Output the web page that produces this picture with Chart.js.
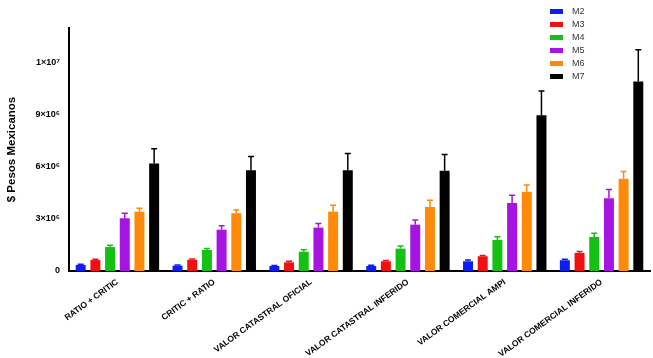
<!DOCTYPE html>
<html>
<head>
<meta charset="utf-8">
<script src="https://cdn.jsdelivr.net/npm/chart.js@4/dist/chart.umd.min.js"></script>
<style>
  html, body { margin: 0; padding: 0; background: #fff; }
  #wrap { width: 653px; height: 358px; position: relative; }
</style>
</head>
<body>
<div id="wrap"><canvas id="barPesos"></canvas></div>
<script>
// categories and tick labels
var categories = ["RATIO + CRITIC", "CRITIC + RATIO", "VALOR CATASTRAL OFICIAL",
                  "VALOR CATASTRAL INFERIDO", "VALOR COMERCIAL AMPI", "VALOR COMERCIAL INFERIDO"];
var yTicks = [0, 3e6, 6e6, 9e6, 12e6];
var yTickLabels = ["0", "3\u00d710\u2076", "6\u00d710\u2076", "9\u00d710\u2076", "1\u00d710\u2077"];

// means per method
var m2 = [0.35e6, 0.31e6, 0.29e6, 0.29e6, 0.56e6, 0.62e6];
var m3 = [0.63e6, 0.65e6, 0.50e6, 0.56e6, 0.85e6, 1.04e6];
var m4 = [1.38e6, 1.21e6, 1.11e6, 1.29e6, 1.79e6, 1.96e6];
var m5 = [3.04e6, 2.38e6, 2.50e6, 2.67e6, 3.92e6, 4.19e6];
var m6 = [3.42e6, 3.33e6, 3.42e6, 3.69e6, 4.56e6, 5.31e6];
var m7 = [6.19e6, 5.81e6, 5.81e6, 5.77e6, 8.98e6, 10.92e6];

// error (upper bar length)
var e2 = [0.04e6, 0.03e6, 0.03e6, 0.04e6, 0.07e6, 0.05e6];
var e3 = [0.04e6, 0.04e6, 0.06e6, 0.05e6, 0.05e6, 0.09e6];
var e4 = [0.10e6, 0.08e6, 0.12e6, 0.15e6, 0.19e6, 0.21e6];
var e5 = [0.29e6, 0.23e6, 0.23e6, 0.27e6, 0.45e6, 0.50e6];
var e6 = [0.20e6, 0.19e6, 0.37e6, 0.39e6, 0.40e6, 0.42e6];
var e7 = [0.85e6, 0.79e6, 0.96e6, 0.94e6, 1.39e6, 1.83e6];

var seriesNames = ["M2", "M3", "M4", "M5", "M6", "M7"];
var seriesColors = ["#0a1ff0", "#f01010", "#14c014", "#a514e0", "#ff8a0a", "#000000"];
var seriesValues = [m2, m3, m4, m5, m6, m7];
var seriesErrors = [e2, e3, e4, e5, e6, e7];

var errorBars = {
    id: "errorBars",
    afterDatasetsDraw: function (chart) {
        var ctx = chart.ctx, y = chart.scales.y;
        chart.data.datasets.forEach(function (ds, i) {
            var meta = chart.getDatasetMeta(i);
            ctx.save();
            ctx.strokeStyle = ds.backgroundColor;
            ctx.lineWidth = 1.5;
            meta.data.forEach(function (bar, j) {
                var top = y.getPixelForValue(ds.data[j] + ds.errors[j]);
                ctx.beginPath();
                ctx.moveTo(bar.x, bar.y);
                ctx.lineTo(bar.x, top);
                ctx.moveTo(bar.x - 3, top);
                ctx.lineTo(bar.x + 3, top);
                ctx.stroke();
            });
            ctx.restore();
        });
    }
};

var sideLegend = {
    id: "sideLegend",
    afterDraw: function (chart) {
        var ctx = chart.ctx;
        ctx.save();
        ctx.font = "9px 'Liberation Sans', Arial, sans-serif";
        ctx.textBaseline = "middle";
        chart.data.datasets.forEach(function (ds, i) {
            var cy = 11.5 + i * 13;
            ctx.fillStyle = ds.backgroundColor;
            ctx.fillRect(550, cy - 2.5, 13, 5);
            ctx.fillStyle = "#333";
            ctx.fillText(ds.label, 572, cy);
        });
        ctx.restore();
    }
};

var datasets = seriesNames.map(function (name, i) {
    return {
        label: name,
        data: seriesValues[i],
        errors: seriesErrors[i],
        backgroundColor: seriesColors[i],
        borderWidth: 0,
        barPercentage: 0.68,
        categoryPercentage: 0.91
    };
});

var ctx = document.getElementById("barPesos");
var myChart = new Chart(ctx, {
    type: "bar",
    data: { labels: categories, datasets: datasets },
    plugins: [errorBars, sideLegend],
    options: {
        responsive: true,
        maintainAspectRatio: false,
        animation: false,
        layout: { padding: { top: 28, right: 3, left: 5, bottom: 0 } },
        plugins: {
            legend: { display: false },
            tooltip: { enabled: false }
        },
        scales: {
            x: {
                grid: { display: false, drawTicks: true, tickLength: 5, tickColor: "#000", tickWidth: 2 },
                border: { color: "#000", width: 2 },
                ticks: {
                    color: "#000",
                    font: { family: "'Liberation Sans', Arial", size: 8.5, weight: "bold" },
                    maxRotation: 36,
                    minRotation: 36,
                    autoSkip: false,
                    padding: 1
                },
                afterFit: function (scale) { scale.height = 87; }
            },
            y: {
                min: 0,
                max: 14e6,
                afterBuildTicks: function (scale) {
                    scale.ticks = yTicks.map(function (v) { return { value: v }; });
                },
                grid: { display: false, drawTicks: true, tickLength: 6, tickColor: "#000", tickWidth: 2 },
                border: { color: "#000", width: 2 },
                ticks: {
                    color: "#000",
                    font: { family: "'Liberation Sans', Arial", size: 9, weight: "bold" },
                    padding: 3,
                    callback: function (v) {
                        var k = yTicks.indexOf(v);
                        return k >= 0 ? yTickLabels[k] : "";
                    }
                },
                title: {
                    display: true,
                    text: "$ Pesos Mexicanos",
                    color: "#000",
                    font: { family: "'Liberation Sans', Arial", size: 11.5, weight: "bold" },
                    padding: { top: 0, bottom: 6 }
                },
                afterFit: function (scale) { scale.width = 64; }
            }
        }
    }
});
</script>
</body>
</html>
